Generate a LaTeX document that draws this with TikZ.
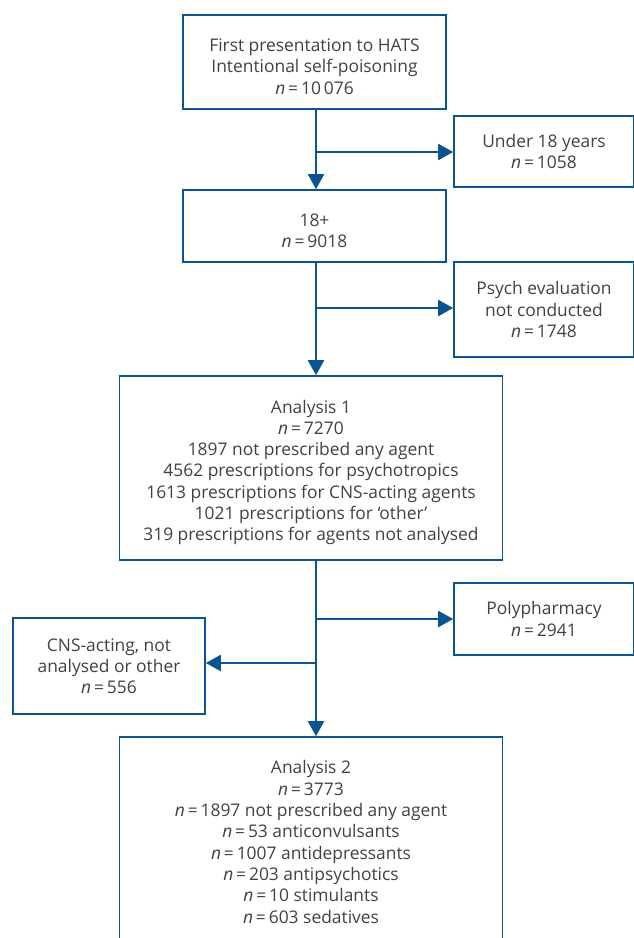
\documentclass[tikz,border=0pt]{standalone}
\usepackage{fontspec}
\setmainfont{Open Sans}
\usetikzlibrary{arrows.meta}

\definecolor{flowblue}{RGB}{12,84,145}
\definecolor{flowtext}{RGB}{65,65,65}
\newcommand{\lowgap}{\rule{0pt}{22pt}}

\begin{document}
\begin{tikzpicture}[x=1pt, y=-1pt,
  box/.style={draw=flowblue, line width=1.6pt, text=flowtext, align=center,
    inner sep=0pt, font=\fontsize{17.4}{21.3}\selectfont},
  flow/.style={draw=flowblue, line width=2pt, -{Triangle[length=15pt,width=16pt]}}]

\clip (0,0) rectangle (634,938);

% -------- main column -----------
\node[box, minimum width=263pt, minimum height=94pt] (first) at (314.5,62)
  {\lowgap First presentation to HATS\\Intentional self-poisoning\\\textit{n}\,=\,10\,076};
\node[box, minimum width=263pt, minimum height=72pt] (adult) at (314.5,226)
  {\lowgap 18+\\\textit{n}\,=\,9018};
\node[box, minimum width=383pt, minimum height=184pt] (anone) at (311,468)
  {\lowgap Analysis 1\\\textit{n}\,=\,7270\\1897 not prescribed any agent\\4562 prescriptions for psychotropics\\1613 prescriptions for CNS-acting agents\\1021 prescriptions for ‘other’\\319 prescriptions for agents not analysed};
\node[box, minimum width=383pt, minimum height=210pt] (antwo) at (311,842)
  {Analysis 2\\\textit{n}\,=\,3773\\\textit{n}\,=\,1897 not prescribed any agent\\\textit{n}\,=\,53 anticonvulsants\\\textit{n}\,=\,1007 antidepressants\\\textit{n}\,=\,203 antipsychotics\\\textit{n}\,=\,10 stimulants\\\textit{n}\,=\,603 sedatives};

% -------- side boxes -----------
\node[box, minimum width=180pt, minimum height=71pt] (under) at (544,151.5)
  {Under 18 years\\\textit{n}\,=\,1058};
\node[box, minimum width=180pt, minimum height=95pt] (psych) at (544,309.5)
  {Psych evaluation\\not conducted\\\textit{n}\,=\,1748};
\node[box, minimum width=180pt, minimum height=72pt] (poly) at (544,619)
  {Polypharmacy\\\textit{n}\,=\,2941};
\node[box, minimum width=192pt, minimum height=96pt] (cns) at (109,666)
  {CNS-acting, not\\analysed or other\\\textit{n}\,=\,556};

% -------- branch points -----------
\coordinate (bone) at (316,152);
\coordinate (btwo) at (316,308);
\coordinate (bthree) at (316,619);
\coordinate (bfour) at (316,663);

\draw[flow] (first.south -| bone) -- (bone |- adult.north);
\draw[flow] (bone) -- (bone -| under.west);
\draw[flow] (adult.south -| btwo) -- (btwo |- anone.north);
\draw[flow] (btwo) -- (btwo -| psych.west);
\draw[flow] (anone.south -| bthree) -- (bthree |- antwo.north);
\draw[flow] (bthree) -- (bthree -| poly.west);
\draw[flow] (bfour) -- (bfour -| cns.east);
\end{tikzpicture}
\end{document}
